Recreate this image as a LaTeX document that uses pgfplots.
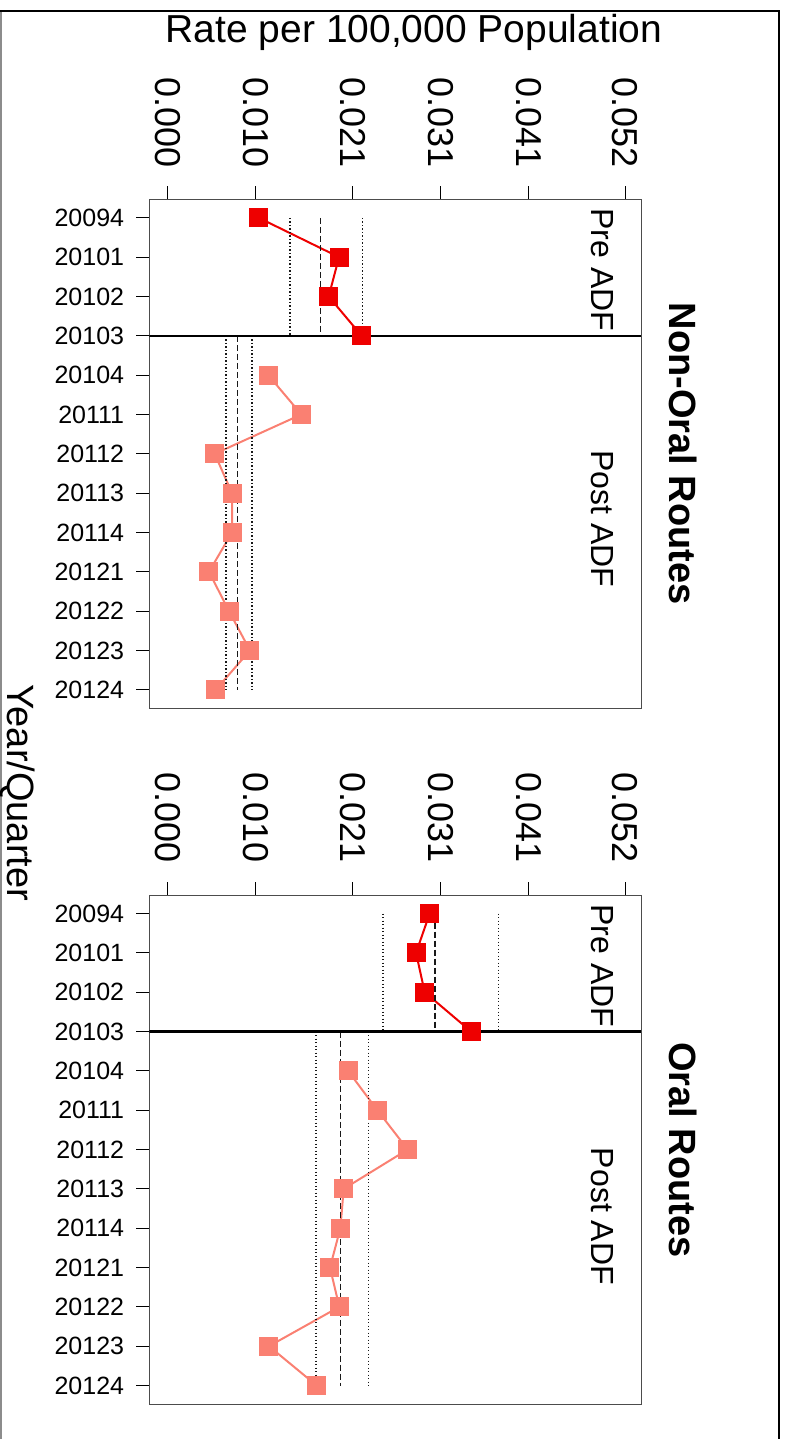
\documentclass[border=0pt]{standalone}
\usepackage{pgfplots}
\pgfplotsset{compat=1.18}
\usepackage{fontspec}
\setmainfont{Liberation Sans}
\newcommand\fs[1]{\fontsize{#1}{#1}\selectfont}
\definecolor{preRed}{RGB}{238,0,0}
\definecolor{postSal}{RGB}{250,128,114}

\pgfplotsset{
  panel/.style={
    scale only axis, width=491.7pt, height=509pt,
    xmin=-0.00209, xmax=0.05378,
    ymin=-0.47, ymax=12.47, y dir=reverse,
    scaled x ticks=false,
    axis line style={black!70, line width=1pt},
    tick style={black, line width=1pt},
    major tick length=13pt, tick align=outside,
    xtick={0,0.010,0.021,0.031,0.041,0.052},
    xticklabels={0.000,0.010,0.021,0.031,0.041,0.052},
    xtick pos=upper, xticklabel pos=upper,
    xticklabel style={rotate=-90, anchor=east, font=\fs{36pt}, inner sep=0pt},
    xticklabel shift=19pt,
    ytick={0,...,12},
    yticklabels={20094,20101,20102,20103,20104,20111,20112,20113,20114,20121,20122,20123,20124},
    ytick pos=left,
    yticklabel style={font=\fs{25pt}, inner sep=0pt},
    yticklabel shift=12pt,
  },
  pre/.style={preRed, line width=2pt, mark=square*, mark size=8.5pt, mark options={solid, fill=preRed, draw=preRed}},
  post/.style={postSal, line width=2pt, mark=square*, mark size=8.5pt, mark options={solid, fill=postSal, draw=postSal}},
  refdot/.style={black!90, line width=1.3pt, dash pattern=on 1.3pt off 2.2pt},
  refdash/.style={black!90, line width=1.2pt, dash pattern=on 6pt off 3pt},
}

\begin{document}
\begin{tikzpicture}
\path[use as bounding box] (0pt,0pt) rectangle (785pt,-1439pt);
\draw[black!45, line width=1.5pt] (1pt,-1439pt) -- (1pt,-11pt);
\draw[black, line width=2pt] (0pt,-11pt) -- (779pt,-11pt) -- (779pt,-1439pt);

\node[anchor=base, font=\fs{39pt}] at (414pt,-43pt) {Rate per 100,000 Population};
\node[rotate=-90, font=\fs{38pt}] at (17.5pt,-793pt) {Year/Quarter};
\node[rotate=-90, font=\fs{38pt}\bfseries] at (683pt,-453.8pt) {Non-Oral Routes};
\node[rotate=-90, font=\fs{38pt}\bfseries] at (683pt,-1150pt) {Oral Routes};

% Non-oral routes
\begin{axis}[panel, at={(149.3pt,-199.3pt)}, anchor=north west]
  \addplot[pre] coordinates {(0.01034,0) (0.01947,1) (0.01829,2) (0.02204,3)};
  \addplot[post] coordinates {(0.01143,4) (0.01519,5) (0.00534,6) (0.00731,7) (0.00731,8) (0.00469,9) (0.00697,10) (0.00935,11) (0.00545,12)};
  \addplot[refdot] coordinates {(0.0139,0) (0.0139,3)};
  \addplot[refdash] coordinates {(0.01738,0) (0.01738,3)};
  \addplot[refdot] coordinates {(0.02212,0) (0.02212,3)};
  \addplot[refdot] coordinates {(0.00663,3) (0.00663,12)};
  \addplot[refdash] coordinates {(0.00795,3) (0.00795,12)};
  \addplot[refdot] coordinates {(0.00958,3) (0.00958,12)};
  \addplot[black, line width=2.5pt] coordinates {(-0.00209,3) (0.05378,3)};
  \node[rotate=-90, font=\fs{32pt}] at (axis cs:0.04935,1.32) {Pre ADF};
  \node[rotate=-90, font=\fs{32pt}] at (axis cs:0.04935,7.65) {Post ADF};
\end{axis}

% Oral routes
\begin{axis}[panel, at={(149.3pt,-895pt)}, anchor=north west]
  \addplot[pre] coordinates {(0.02977,0) (0.02822,1) (0.0292,2) (0.03447,3)};
  \addplot[post] coordinates {(0.02049,4) (0.02382,5) (0.02727,6) (0.02,7) (0.01962,8) (0.01844,9) (0.0195,10) (0.01151,11) (0.01693,12)};
  \addplot[refdot] coordinates {(0.02447,0) (0.02447,3)};
  \addplot[refdash] coordinates {(0.03038,0) (0.03038,3)};
  \addplot[refdot] coordinates {(0.03761,0) (0.03761,3)};
  \addplot[refdot] coordinates {(0.01685,3) (0.01685,12)};
  \addplot[refdash] coordinates {(0.01962,3) (0.01962,12)};
  \addplot[refdot] coordinates {(0.02284,3) (0.02284,12)};
  \addplot[black, line width=2.5pt] coordinates {(-0.00209,3) (0.05378,3)};
  \node[rotate=-90, font=\fs{32pt}] at (axis cs:0.04935,1.33) {Pre ADF};
  \node[rotate=-90, font=\fs{32pt}] at (axis cs:0.04935,7.7) {Post ADF};
\end{axis}
\end{tikzpicture}
\end{document}
